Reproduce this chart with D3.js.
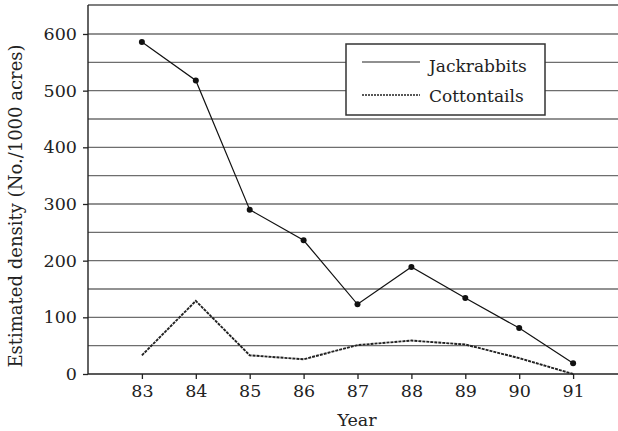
<!DOCTYPE html>
<html>
<head>
<meta charset="utf-8">
<script src="https://cdn.jsdelivr.net/npm/d3@7"></script>
<style>
  html, body { margin: 0; padding: 0; background: #fff; }
  svg { display: block; }
  text { font-family: "DejaVu Serif", serif; fill: #222; }
</style>
</head>
<body>
<script>
// Rabbit density estimates by year
const years = [83, 84, 85, 86, 87, 88, 89, 90, 91];
const jackrabbits = [586, 518, 290, 236, 123, 189, 134, 81, 19];
const cottontails = [33, 129, 33, 26, 51, 59, 52, 28, 0];
const yTicks = [0, 100, 200, 300, 400, 500, 600];
const gridValues = [50, 100, 150, 200, 250, 300, 350, 400, 450, 500, 550, 600];
const seriesNames = ["Jackrabbits", "Cottontails"];

const W = 618, H = 431;
const plotLeft = 88, plotTop = 5, plotBottom = 374, plotRight = 618;

const svg = d3.select("body").append("svg")
  .attr("width", W).attr("height", H);

const x = d3.scaleLinear().domain([82, 92]).range([plotLeft, plotLeft + 10 * 53.9]);
const y = d3.scaleLinear().domain([0, 650]).range([plotBottom, plotBottom - 650 * 0.5667]);

// horizontal grid
svg.append("g").selectAll("line").data(gridValues).join("line")
  .attr("x1", plotLeft).attr("x2", plotRight)
  .attr("y1", d => y(d)).attr("y2", d => y(d))
  .attr("stroke", "#6e6e6e").attr("stroke-width", 1.3);

// top frame edge
svg.append("line").attr("x1", plotLeft).attr("x2", plotRight)
  .attr("y1", plotTop).attr("y2", plotTop)
  .attr("stroke", "#555").attr("stroke-width", 1.5);

// y axis
const yAxis = svg.append("g").attr("transform", `translate(${plotLeft},0)`)
  .call(d3.axisLeft(y).tickValues(yTicks).tickSize(5).tickPadding(6).tickFormat(d3.format("d")));
yAxis.select(".domain").remove();
yAxis.append("line").attr("x1", 0).attr("x2", 0).attr("y1", plotTop).attr("y2", plotBottom)
  .attr("stroke", "#222").attr("stroke-width", 1.4);
yAxis.selectAll(".tick line").attr("stroke", "#222").attr("stroke-width", 1.3);
yAxis.selectAll(".tick text").attr("font-size", 17.5).attr("fill", "#222")
  .attr("font-family", "DejaVu Serif, serif");

// x axis
const xAxis = svg.append("g").attr("transform", `translate(0,${plotBottom})`)
  .call(d3.axisBottom(x).tickValues(years).tickSize(5).tickPadding(6).tickFormat(d3.format("d")));
xAxis.select(".domain").remove();
xAxis.append("line").attr("x1", plotLeft).attr("x2", plotRight).attr("y1", 0).attr("y2", 0)
  .attr("stroke", "#222").attr("stroke-width", 1.4);
xAxis.selectAll(".tick line").attr("stroke", "#222").attr("stroke-width", 1.3);
xAxis.selectAll(".tick text").attr("font-size", 17.5).attr("fill", "#222")
  .attr("font-family", "DejaVu Serif, serif");

// series lines
const line = d3.line().x((d, i) => x(years[i])).y(d => y(d));

svg.append("path").datum(cottontails)
  .attr("d", line).attr("fill", "none")
  .attr("stroke", "#222").attr("stroke-width", 1.9)
  .attr("stroke-dasharray", "3,1");

svg.append("path").datum(jackrabbits)
  .attr("d", line).attr("fill", "none")
  .attr("stroke", "#111").attr("stroke-width", 1.2);

svg.append("g").selectAll("circle").data(jackrabbits).join("circle")
  .attr("cx", (d, i) => x(years[i])).attr("cy", d => y(d))
  .attr("r", 3).attr("fill", "#111");

// legend
const lg = svg.append("g");
lg.append("rect").attr("x", 346).attr("y", 44).attr("width", 199).attr("height", 71)
  .attr("fill", "#fff").attr("stroke", "#333").attr("stroke-width", 1.5);
const legendRows = [
  { name: seriesNames[0], dash: null, w: 1.2, ly: 62, ty: 72 },
  { name: seriesNames[1], dash: "2,1", w: 1.7, ly: 95, ty: 102 }
];
legendRows.forEach(r => {
  lg.append("line").attr("x1", 362).attr("x2", 420).attr("y1", r.ly).attr("y2", r.ly)
    .attr("stroke", "#222").attr("stroke-width", r.w)
    .attr("stroke-dasharray", r.dash);
  lg.append("text").attr("x", 429).attr("y", r.ty).attr("font-size", 17).text(r.name);
});

// axis titles
svg.append("text").attr("x", (plotLeft + plotRight) / 2 + 4).attr("y", 426)
  .attr("text-anchor", "middle").attr("font-size", 17.5).text("Year");
svg.append("text")
  .attr("transform", `translate(22,${206}) rotate(-90)`)
  .attr("text-anchor", "middle").attr("font-size", 18)
  .text("Estimated density (No./1000 acres)");
</script>
</body>
</html>
